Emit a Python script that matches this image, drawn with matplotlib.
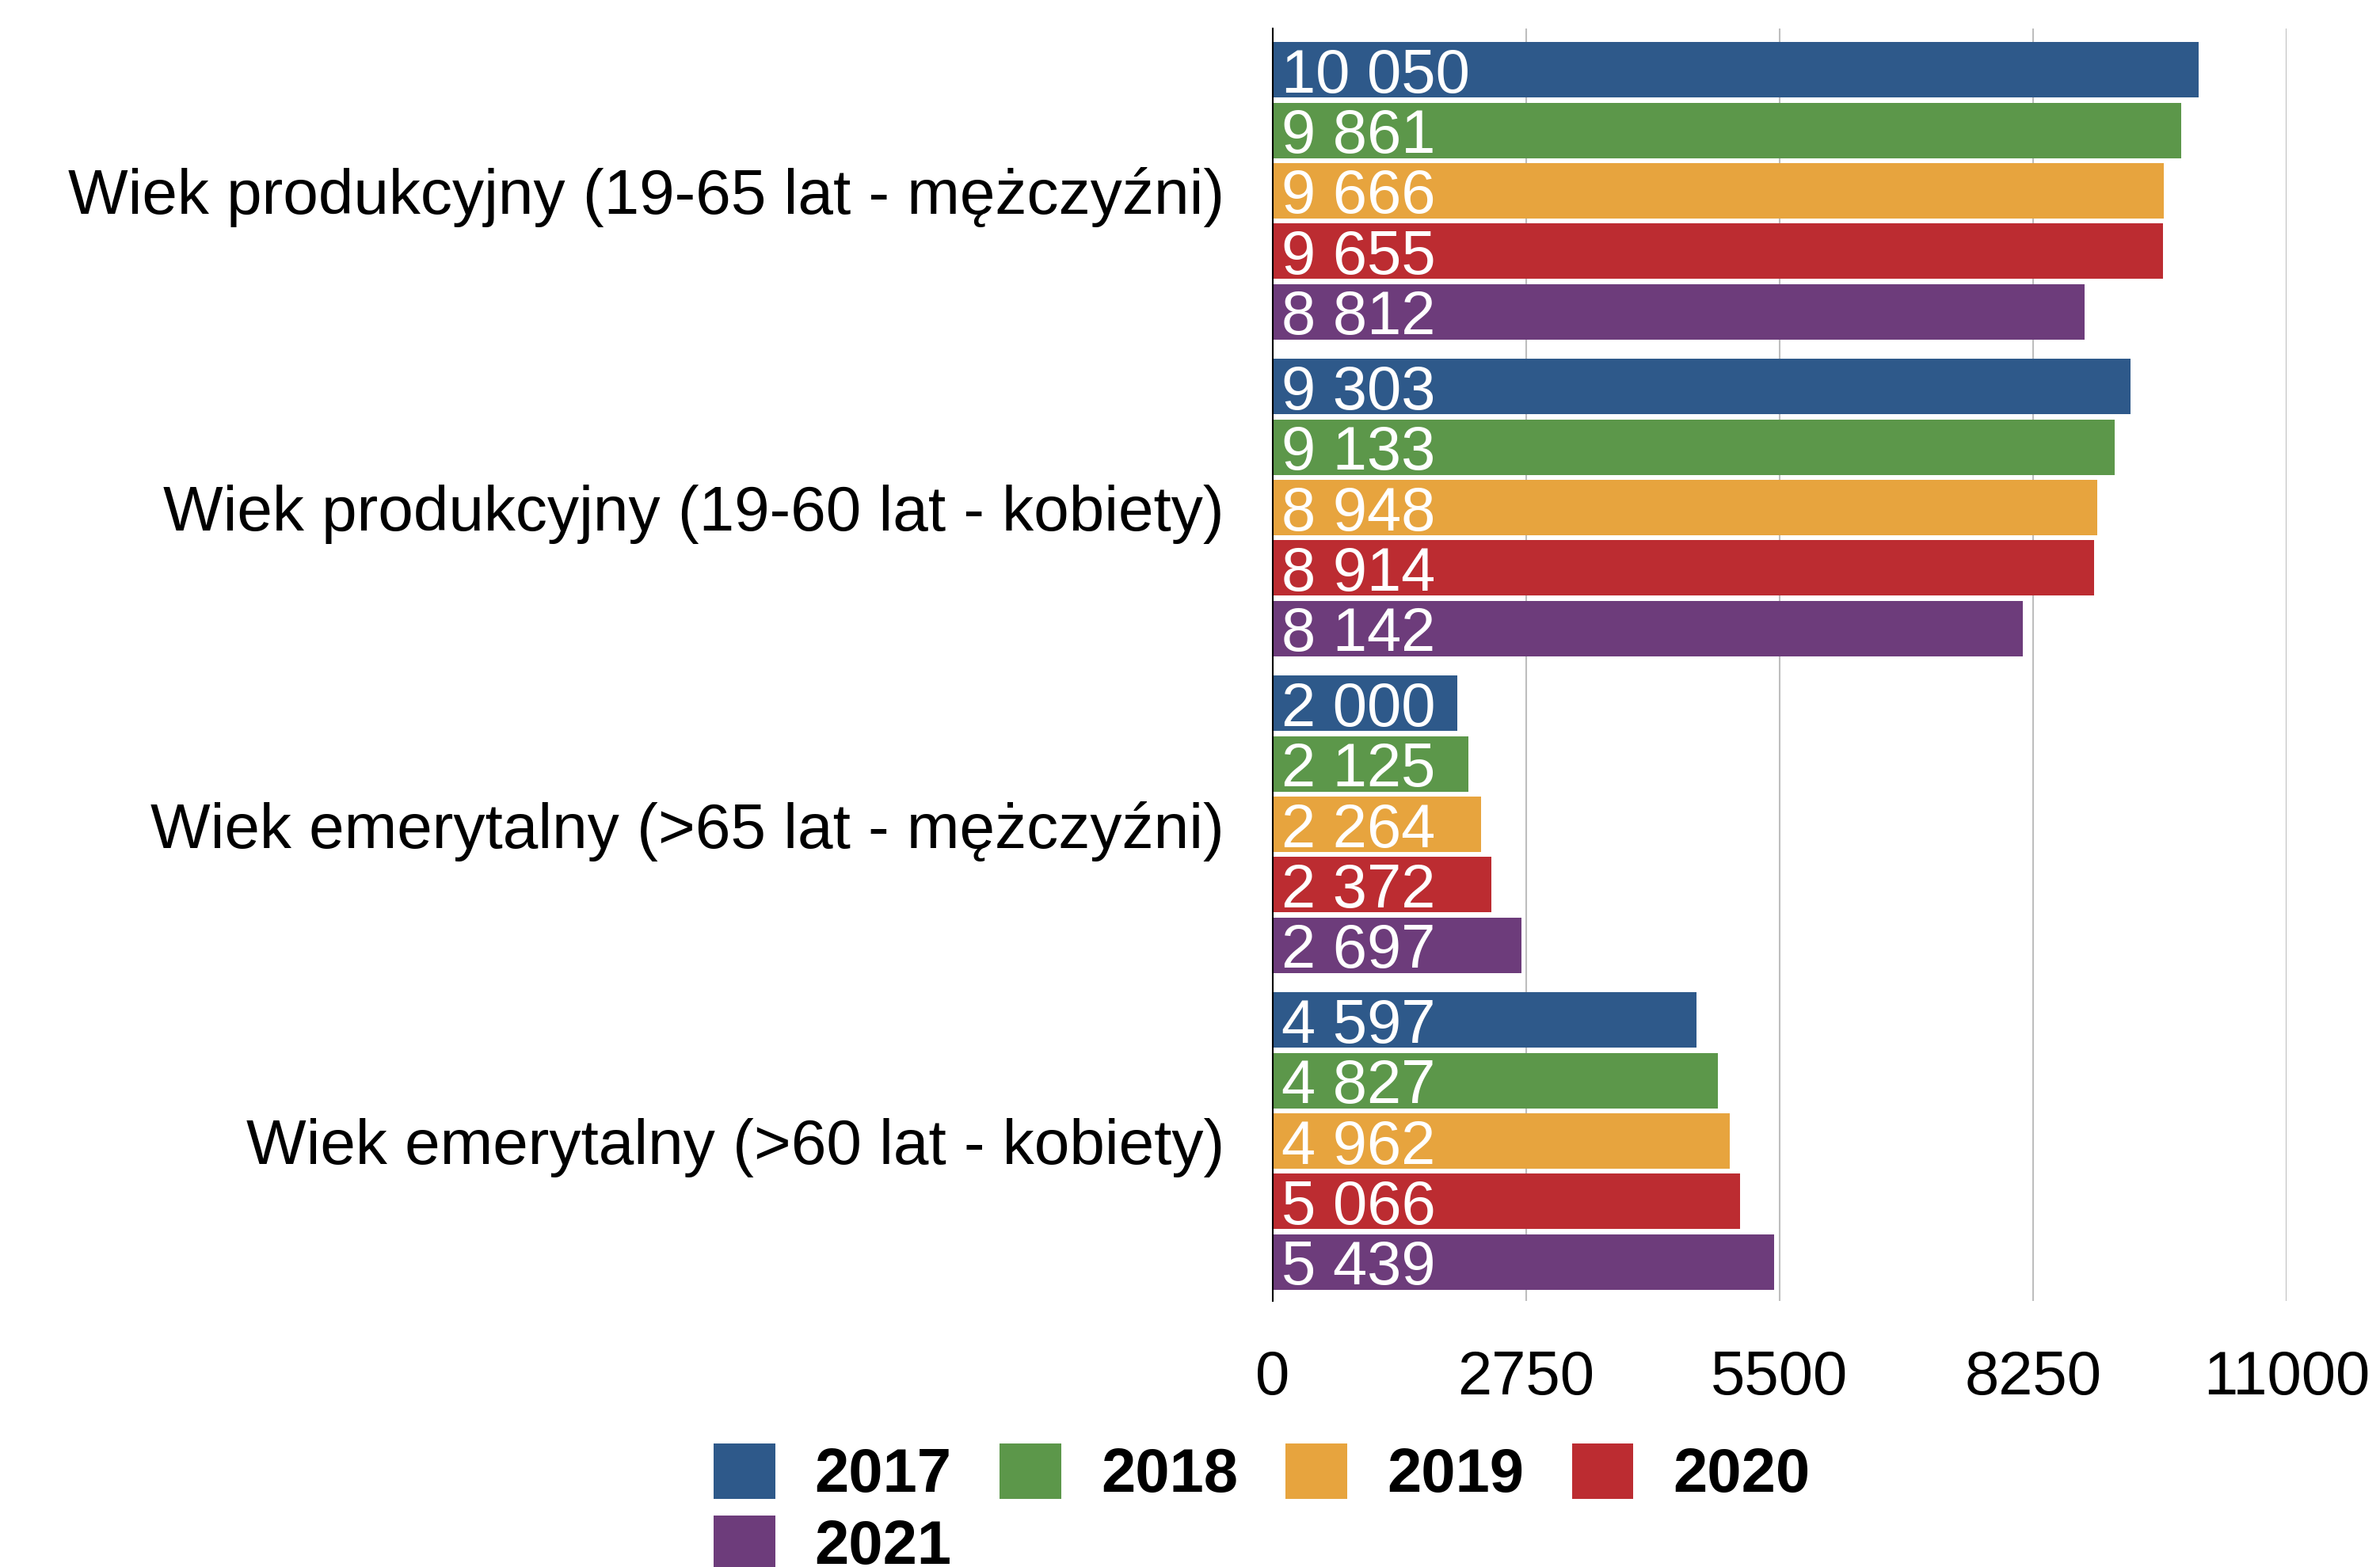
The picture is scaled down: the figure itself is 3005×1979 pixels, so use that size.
import numpy as np
from matplotlib import pyplot as plt

plt.rcParams['font.family'] = ['Liberation Sans', 'DejaVu Sans']

categories = [
    'Wiek produkcyjny (19-65 lat - mężczyźni)',
    'Wiek produkcyjny (19-60 lat - kobiety)',
    'Wiek emerytalny (>65 lat - mężczyźni)',
    'Wiek emerytalny (>60 lat - kobiety)',
]
years = ['2017', '2018', '2019', '2020', '2021']
values_2017 = [10050, 9303, 2000, 4597]
values_2018 = [9861, 9133, 2125, 4827]
values_2019 = [9666, 8948, 2264, 4962]
values_2020 = [9655, 8914, 2372, 5066]
values_2021 = [8812, 8142, 2697, 5439]
series = [values_2017, values_2018, values_2019, values_2020, values_2021]
colors = ['#2E598A', '#5C974A', '#E7A43E', '#BC2C31', '#6D3C7B']
x_ticks = [0, 2750, 5500, 8250, 11000]

FS = 56

fig = plt.figure(figsize=(30.05, 19.79), dpi=100)
ax = fig.add_axes([0.53478, 0.16978, 0.42596, 0.81203])

y = np.arange(len(categories))
pitch = 0.191
height = 0.175
bars = []
for i, (vals, col, yr) in enumerate(zip(series, colors, years)):
    pos = y + (i - 2) * pitch
    b = ax.barh(pos, vals, height=height, color=col, label=yr, zorder=2)
    bars.append(b)
    for p, v in zip(pos, vals):
        ax.annotate(f'{v:,}'.replace(',', ' '), xy=(0, p), xytext=(8, 0),
                    textcoords='offset points', ha='left', va='center_baseline',
                    color='white', fontsize=FS, zorder=3)

ax.set_xlim(0, 11000)
ax.set_ylim(3.505, -0.5125)
ax.set_xticks(x_ticks)
ax.set_xticklabels([str(t) for t in x_ticks])
ax.set_yticks(y)
ax.set_yticklabels(categories, fontsize=57.7)
ax.tick_params(axis='both', length=0)
ax.tick_params(axis='x', pad=44, labelsize=FS)
ax.tick_params(axis='y', pad=44)

ax.grid(axis='x', color='#BEBEBE', linewidth=1.5, zorder=0)
ax.set_axisbelow(True)
for s in ['top', 'right', 'bottom']:
    ax.spines[s].set_visible(False)
ax.spines['left'].set_linewidth(1.5)
ax.spines['left'].set_color('black')
ax.spines['left'].set_zorder(4)

# legend fills by column, so reorder to get 2017-2020 on first row
order = [0, 4, 1, 2, 3]
leg = fig.legend([bars[k] for k in order], [years[k] for k in order],
                 loc='upper left', bbox_to_anchor=(901 / 3005, 1 - 1823 / 1979),
                 ncol=4, frameon=False, borderpad=0, borderaxespad=0,
                 handlelength=1.0, handleheight=1.0, handletextpad=0.64,
                 columnspacing=0.78, labelspacing=0.17,
                 prop={'weight': 'bold', 'size': FS})

fig.savefig('out.png', dpi=100)
